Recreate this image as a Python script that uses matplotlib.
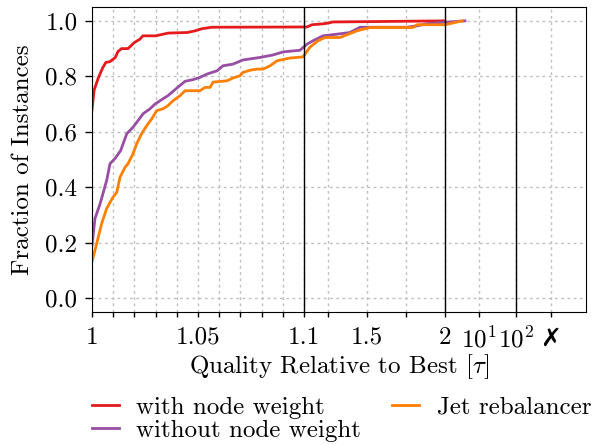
import numpy as np
import matplotlib
matplotlib.use("Agg")
import matplotlib.pyplot as plt

# performance profile values
with_nw_x = [1.0, 1.001, 1.003, 1.005, 1.0065, 1.0085, 1.011, 1.0123, 1.014, 1.017,
             1.020, 1.0226, 1.024, 1.030, 1.036, 1.045, 1.0486, 1.052, 1.0566,
             1.119, 1.151, 1.234, 1.285, 2.0]
with_nw_y = [0.68, 0.75, 0.795, 0.83, 0.85, 0.853, 0.868, 0.89, 0.90, 0.90,
             0.922, 0.934, 0.946, 0.946, 0.956, 0.958, 0.964, 0.972, 0.977,
             0.978, 0.986, 0.99, 0.996, 1.0]

without_nw_x = [1.0, 1.0014, 1.0038, 1.0069, 1.0085, 1.0108, 1.0135, 1.0164, 1.0193,
                1.0217, 1.0241, 1.0274, 1.0297, 1.0335, 1.0358, 1.0401, 1.0439,
                1.0476, 1.0509, 1.0542, 1.059, 1.0618, 1.0665, 1.0712, 1.0792,
                1.0854, 1.0901, 1.0981, 1.119, 1.157, 1.221, 1.311, 1.393, 1.457,
                1.757, 1.821, 1.885, 2.0, 5.15]
without_nw_y = [0.19, 0.287, 0.34, 0.424, 0.485, 0.503, 0.532, 0.593, 0.616,
                0.64, 0.665, 0.683, 0.70, 0.719, 0.73, 0.758, 0.782,
                0.788, 0.796, 0.808, 0.82, 0.838, 0.844, 0.859, 0.868,
                0.877, 0.888, 0.894, 0.916, 0.928, 0.946, 0.952, 0.958, 0.977,
                0.977, 0.982, 0.99, 0.995, 1.0]

jet_x = [1.0, 1.0022, 1.0046, 1.0069, 1.0099, 1.0117, 1.0132, 1.0156, 1.017, 1.0193,
         1.0211, 1.0234, 1.0258, 1.0282, 1.0305, 1.0335, 1.0358, 1.0382, 1.0415,
         1.0439, 1.0509, 1.0533, 1.0557, 1.0571, 1.0637, 1.0665, 1.0698, 1.0712,
         1.0745, 1.0778, 1.0807, 1.084, 1.0873, 1.0934, 1.0995, 1.138, 1.189,
         1.234, 1.330, 1.438, 1.521, 1.795, 1.821, 2.0, 4.47]
jet_y = [0.131, 0.197, 0.27, 0.323, 0.364, 0.382, 0.436, 0.472, 0.485, 0.52,
         0.557, 0.593, 0.622, 0.647, 0.676, 0.683, 0.694, 0.712, 0.73,
         0.748, 0.748, 0.76, 0.76, 0.779, 0.784, 0.794, 0.802, 0.814,
         0.822, 0.826, 0.826, 0.838, 0.856, 0.866, 0.87, 0.905, 0.928,
         0.94, 0.94, 0.964, 0.976, 0.976, 0.986, 0.986, 1.0]

major_ticks = [1, 1.05, 1.1, 1.5, 2, 10, 100, 1000]
major_labels = ['1', '1.05', '1.1', '1.5', '2', '$10^1$', '$10^2$', '\u2717']
minor_ticks = [1.01, 1.02, 1.03, 1.04, 1.06, 1.07, 1.08, 1.09, 1.25, 1.75]

# segmented axis: linear [1,1.1], linear [1.1,2], log [2,...]
lin_x = [1.0, 1.1, 2.0]
lin_p = [0.0, 212.0, 353.0]
log_x = [np.log10(2), 1.0, 2.0, 3.0, 4.0]
log_p = [353.0, 387.0, 424.0, 459.0, 494.0]


def fwd(x):
    x = np.asarray(x, dtype=float)
    xs = np.clip(x, 1e-9, None)
    return np.where(x <= 2, np.interp(x, lin_x, lin_p, left=-1e3),
                    np.interp(np.log10(xs), log_x, log_p))


def inv(p):
    p = np.asarray(p, dtype=float)
    return np.where(p <= 353, np.interp(p, lin_p, lin_x),
                    10 ** np.interp(p, log_p, log_x))


plt.rcParams['font.family'] = 'serif'
plt.rcParams['font.serif'] = ['cmr10']
plt.rcParams['mathtext.fontset'] = 'cm'
plt.rcParams['axes.unicode_minus'] = False

FS = 18

fig = plt.figure(figsize=(6, 4.45), dpi=100)
ax = fig.add_axes([92 / 600, 1 - 312 / 445, 494 / 600, 305 / 445])
ax.set_xscale('function', functions=(fwd, inv))

ax.plot(with_nw_x, with_nw_y, color='#e41a1c', lw=2, label='with node weight')
ax.plot(without_nw_x, without_nw_y, color='#984ea3', lw=2, label='without node weight')
ax.plot(jet_x, jet_y, color='#ff7f00', lw=2, label='Jet rebalancer')

for v in [1.1, 2, 100]:
    ax.axvline(v, color='black', lw=1)

ax.set_xlim(1, 10 ** 4)
ax.set_ylim(-0.05, 1.05)
ax.set_xticks(major_ticks)
ax.set_xticklabels(major_labels)
ax.set_xticks(minor_ticks, minor=True)
ax.set_yticks([0, 0.2, 0.4, 0.6, 0.8, 1.0])
ax.set_yticklabels(['0.0', '0.2', '0.4', '0.6', '0.8', '1.0'])
for t in ax.get_xticklabels():
    if t.get_text() == '\u2717':
        t.set_family(['DejaVu Sans'])
        t.set_fontweight('bold')
ax.tick_params(axis='x', which='both', direction='out', length=3.5,
               width=1, labelsize=FS, pad=7)
ax.tick_params(axis='y', which='both', direction='out', length=5,
               width=1, labelsize=FS, pad=5.5)
ax.grid(True, which='both', axis='x', color='#c0c0c0', ls=(0, (2, 2.5)), lw=1)
ax.grid(True, which='major', axis='y', color='#c0c0c0', ls=(0, (2, 2.5)), lw=1)

ax.set_xlabel(r'Quality Relative to Best [$\tau$]', fontsize=FS, labelpad=0)
ax.set_ylabel('Fraction of Instances', fontsize=FS, labelpad=8)

fig.legend(loc='upper left', bbox_to_anchor=(74 / 600, 1 - 379 / 445), ncol=2,
           frameon=False, fontsize=FS, handlelength=1.1, handletextpad=0.7,
           columnspacing=1.22, labelspacing=0.0, borderpad=0.2)

fig.savefig('out.png', dpi=100)
